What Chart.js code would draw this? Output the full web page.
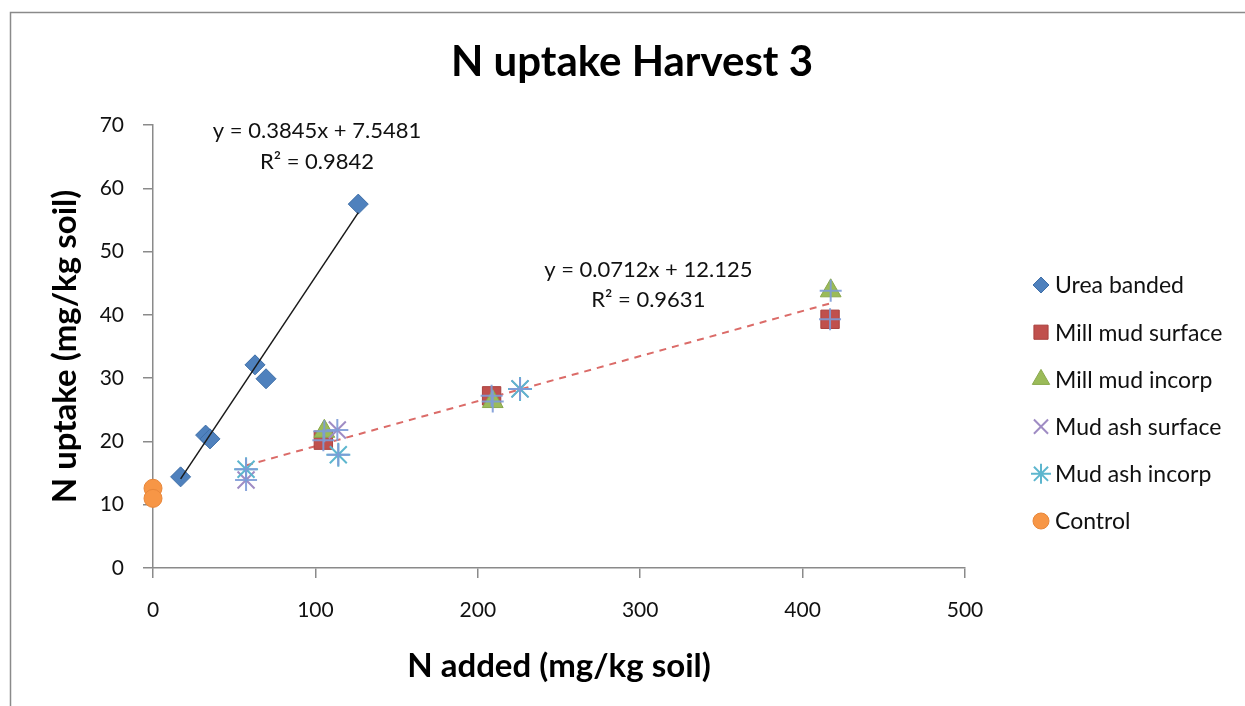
<!DOCTYPE html>
<html>
<head>
<meta charset="utf-8">
<title>N uptake Harvest 3</title>
<script src="https://cdn.jsdelivr.net/npm/chart.js@4.4.1/dist/chart.umd.min.js"></script>
<style>
    html, body { margin: 0; padding: 0; background: #fff; }
    #wrap { width: 1245px; height: 706px; }
</style>
</head>
<body>
<div id="wrap"><canvas id="uptakeChart" width="1245" height="706"></canvas></div>
<script>
// values
const ureaX = [17, 32.4, 35.1, 62.8, 69.6, 126.4];
const ureaY = [14.4, 21.0, 20.4, 32.1, 29.9, 57.5];
const millSurfX = [104.9, 208.5, 416.9];
const millSurfY = [20.2, 27.2, 39.3];
const millIncX = [105.5, 209.2, 417.3];
const millIncY = [21.6, 26.3, 43.8];
const ashSurfX = [57.3, 113.5, 226];
const ashSurfY = [13.9, 21.8, 28.3];
const ashIncX = [57.3, 114.1, 226];
const ashIncY = [15.6, 17.9, 28.3];
const controlX = [0, 0];
const controlY = [12.6, 11.0];

// fitted lines as printed on the chart
const ureaFit = { slope: 0.3845, intercept: 7.5481, eq: 'y = 0.3845x + 7.5481', r2: 'R² = 0.9842' };
const amendFit = { slope: 0.0712, intercept: 12.125, eq: 'y = 0.0712x + 12.125', r2: 'R² = 0.9631' };

const xTicks = [0, 100, 200, 300, 400, 500];
const yTicks = [0, 10, 20, 30, 40, 50, 60, 70];

const chartTitle = 'N uptake Harvest 3';
const FONT = 'Lato, "Open Sans", sans-serif';

const toPoints = (xs, ys) => xs.map((x, i) => ({ x, y: ys[i] }));
const fitLine = (fit, xs) => {
    const lo = Math.min(...xs), hi = Math.max(...xs);
    return [lo, hi].map(x => ({ x, y: fit.slope * x + fit.intercept }));
};
const amendX = [...millSurfX, ...millIncX, ...ashSurfX, ...ashIncX];
const amendY = [...millSurfY, ...millIncY, ...ashSurfY, ...ashIncY];

const series = [
    { label: 'Urea banded', data: toPoints(ureaX, ureaY), pointStyle: 'rectRot', radius: 10, legendRadius: 8,
      backgroundColor: '#4F81BD', borderColor: '#3F6FA8', borderWidth: 1, order: 3 },
    { label: 'Mill mud surface', data: toPoints(millSurfX, millSurfY), pointStyle: 'rect', radius: 13, legendRadius: 10,
      backgroundColor: '#C0504D', borderColor: '#A9413E', borderWidth: 1, order: 6 },
    { label: 'Mill mud incorp', data: toPoints(millIncX, millIncY), pointStyle: 'triangle', radius: 12, legendRadius: 10,
      backgroundColor: '#9BBB59', borderColor: '#89A84B', borderWidth: 1, order: 5 },
    { label: 'Mud ash surface', data: toPoints(ashSurfX, ashSurfY), pointStyle: 'crossRot', radius: 12, legendRadius: 10,
      backgroundColor: '#9F8CC4', borderColor: '#9F8CC4', borderWidth: 2, order: 4 },
    { label: 'Mud ash incorp', data: toPoints(ashIncX, ashIncY), pointStyle: 'star', radius: 12, legendRadius: 10,
      backgroundColor: '#4BACC6', borderColor: '#5DB6CE', borderWidth: 2, order: 2 },
    { label: 'Control', data: toPoints(controlX, controlY), pointStyle: 'circle', radius: 9, legendRadius: 8,
      backgroundColor: '#F79646', borderColor: '#E8873A', borderWidth: 1, order: 7 },
];

const datasets = series.map(s => ({
    type: 'scatter',
    label: s.label,
    data: s.data,
    pointStyle: s.pointStyle,
    pointRadius: s.radius,
    pointHoverRadius: s.radius,
    backgroundColor: s.backgroundColor,
    borderColor: s.borderColor,
    borderWidth: s.borderWidth,
    clip: false,
    order: s.order,
}));

// combined amendment series (plus markers, not in legend)
datasets.push({
    type: 'scatter',
    label: 'All amendments',
    data: toPoints(amendX, amendY),
    pointStyle: 'cross',
    pointRadius: 11,
    backgroundColor: 'rgba(125,155,215,0.9)',
    borderColor: 'rgba(125,155,215,0.9)',
    borderWidth: 2,
    clip: false,
    order: 1,
});
datasets.push({
    type: 'line',
    label: 'Urea fit',
    data: fitLine(ureaFit, ureaX),
    borderColor: '#1a1a1a',
    borderWidth: 1.5,
    pointRadius: 0,
    fill: false,
    order: 0,
});
datasets.push({
    type: 'line',
    label: 'Amendment fit',
    data: fitLine(amendFit, amendX),
    borderColor: '#DB6B68',
    borderWidth: 2,
    borderDash: [7, 6],
    pointRadius: 0,
    fill: false,
    order: 8,
});

// where the equations sit (data units)
const eqSpots = [
    { fit: ureaFit, x: 101, y: 69.0, y2: 64.2 },
    { fit: amendFit, x: 305, y: 47.1, y2: 42.3 },
];

const framePlugin = {
    id: 'frame',
    beforeDraw(chart) {
        const { ctx, width, height } = chart;
        ctx.save();
        ctx.fillStyle = '#fff';
        ctx.fillRect(0, 0, width, height);
        ctx.strokeStyle = '#8a8a8a';
        ctx.lineWidth = 1.5;
        ctx.beginPath();
        ctx.moveTo(10.5, height);
        ctx.lineTo(10.5, 12.5);
        ctx.lineTo(width, 12.5);
        ctx.stroke();
        ctx.restore();
    }
};

const extrasPlugin = {
    id: 'extras',
    afterDraw(chart) {
        const { ctx } = chart;
        const xs = chart.scales.x, ys = chart.scales.y;
        ctx.save();

        // title, centred on the whole frame
        ctx.fillStyle = '#000';
        ctx.textAlign = 'center';
        ctx.textBaseline = 'middle';
        ctx.font = 'bold 42px ' + FONT;
        ctx.fillText(chartTitle, 632, 62);

        ctx.fillStyle = '#111';
        ctx.font = '22px ' + FONT;
        eqSpots.forEach(spot => {
            const px = xs.getPixelForValue(spot.x);
            ctx.fillText(spot.fit.eq, px, ys.getPixelForValue(spot.y));
            ctx.fillText(spot.fit.r2, px, ys.getPixelForValue(spot.y2));
        });

        // legend
        const left = 1041, top = 285, gap = 47.2;
        ctx.textAlign = 'left';
        ctx.font = '23px ' + FONT;
        series.forEach((s, i) => {
            const y = top + i * gap;
            ctx.fillStyle = s.backgroundColor;
            ctx.strokeStyle = s.borderColor;
            ctx.lineWidth = s.borderWidth;
            Chart.helpers.drawPoint(ctx, { pointStyle: s.pointStyle, radius: s.legendRadius, rotation: 0, borderWidth: s.borderWidth }, left, y);
            ctx.fillStyle = '#111';
            ctx.fillText(s.label, left + 14, y + 1);
        });
        ctx.restore();
    }
};

new Chart(document.getElementById('uptakeChart'), {
    type: 'scatter',
    data: { datasets },
    options: {
        responsive: false,
        animation: false,
        devicePixelRatio: 1,
        layout: { padding: { left: 32, right: 280, top: 125, bottom: 16 } },
        plugins: {
            legend: { display: false },
            tooltip: { enabled: false },
            title: { display: false },
        },
        scales: {
            x: {
                type: 'linear',
                min: 0,
                max: 500,
                afterBuildTicks: axis => { axis.ticks = xTicks.map(v => ({ value: v })); },
                afterFit: axis => { axis.height = 706 - 16 - 568; },
                border: { color: '#8a8a8a', width: 1.5 },
                grid: { display: true, drawOnChartArea: false, drawTicks: true, tickLength: 10, color: '#8a8a8a', lineWidth: 1.5 },
                ticks: { color: '#111', padding: 20, font: { family: FONT, size: 21 } },
                title: {
                    display: true,
                    text: 'N added (mg/kg soil)',
                    color: '#000',
                    font: { family: FONT, size: 33, weight: 'bold' },
                    padding: { top: 10 },
                },
            },
            y: {
                type: 'linear',
                min: 0,
                max: 70,
                afterBuildTicks: axis => { axis.ticks = yTicks.map(v => ({ value: v })); },
                afterFit: axis => { axis.width = 153 - 32; },
                border: { color: '#8a8a8a', width: 1.5 },
                grid: { display: true, drawOnChartArea: false, drawTicks: true, tickLength: 10, color: '#8a8a8a', lineWidth: 1.5 },
                ticks: { color: '#111', padding: 19, font: { family: FONT, size: 21 } },
                title: {
                    display: true,
                    text: 'N uptake (mg/kg soil)',
                    color: '#000',
                    font: { family: FONT, size: 33, weight: 'bold' },
                    padding: { top: 14 },
                },
            },
        },
    },
    plugins: [framePlugin, extrasPlugin],
});
</script>
</body>
</html>
